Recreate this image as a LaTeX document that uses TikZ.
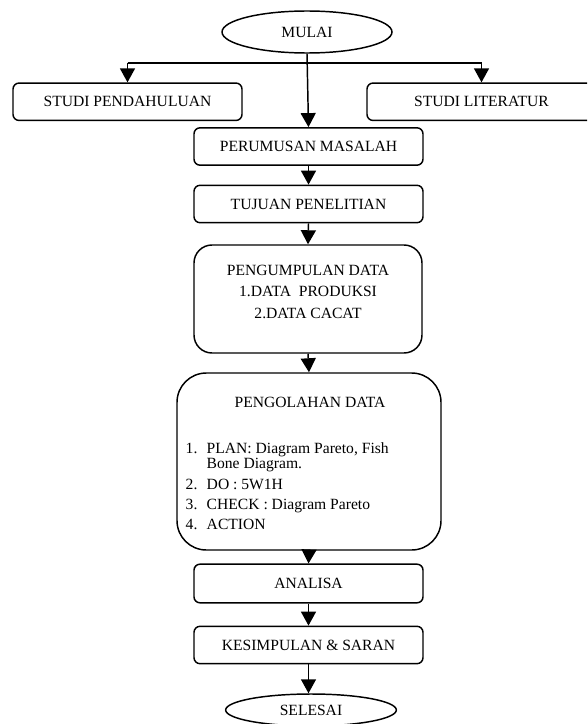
\documentclass[tikz,border=0pt]{standalone}
\usepackage{fontspec}
\setmainfont{Liberation Serif}
\usetikzlibrary{arrows.meta,shapes.geometric}
\begin{document}
\begin{tikzpicture}[x=0.75pt,y=-0.75pt,
  line width=1.1pt,
  txtfont/.style={font=\fontsize{11.7}{16.1}\selectfont},
  box/.style={draw, rounded corners=4.5pt, line width=1.1pt, minimum width=171.75pt, minimum height=28pt, inner sep=0pt, txtfont},
  bigbox/.style={draw, line width=1.1pt, inner sep=0pt},
  term/.style={draw, ellipse, line width=1.1pt, inner sep=0pt, txtfont},
  arr/.style={-{Triangle[width=11.25pt,length=10.5pt]}, line width=1.1pt},
  txt/.style={inner sep=0pt, txtfont},
]
\useasboundingbox (0,0) rectangle (587,724);
\clip (0,0) rectangle (587,724);

% terminals
\node[term, minimum width=127.5pt, minimum height=31.5pt] (mulai) at (307,32) {MULAI};
\node[term, minimum width=128pt, minimum height=24pt] (selesai) at (311,710) {SELESAI};

% top branch boxes
\node[box] (sp) at (127.5,101.75) {STUDI PENDAHULUAN};
\node[box] (sl) at (481.5,101.75) {STUDI LITERATUR};

% main column
\node[box] (pm) at (308.5,146.5) {PERUMUSAN MASALAH};
\node[box] (tp) at (308.5,204) {TUJUAN PENELITIAN};

\node[bigbox, rounded corners=13.5pt, minimum width=171pt, minimum height=81pt] (pd) at (308,299) {};
\node[txt, align=center] (pdt) at (308,291.5) {PENGUMPULAN DATA\\1.DATA\ \ PRODUKSI\\2.DATA CACAT};

\node[bigbox, rounded corners=22pt, minimum width=198pt, minimum height=132.75pt] (ol) at (309,461.5) {};
\node[txt] (olt) at (310,402) {PENGOLAHAN DATA};
\node[txt, anchor=base west] (n1) at (185,453) {1.};
\node[txt, anchor=base west] (l1) at (206,453) {PLAN: Diagram Pareto, Fish};
\node[txt, anchor=base west] (l1b) at (206,468) {Bone Diagram.};
\node[txt, anchor=base west] (n2) at (185,489) {2.};
\node[txt, anchor=base west] (l2) at (206,489) {DO : 5W1H};
\node[txt, anchor=base west] (n3) at (185,509) {3.};
\node[txt, anchor=base west] (l3) at (206,509) {CHECK : Diagram Pareto};
\node[txt, anchor=base west] (n4) at (185,529) {4.};
\node[txt, anchor=base west] (l4) at (206,529) {ACTION};

\node[box, minimum height=29pt] (an) at (308.5,583.5) {ANALISA};
\node[box] (ks) at (308.5,645) {KESIMPULAN \& SARAN};

% connectors
\coordinate (jl) at (127.5,63);
\coordinate (jr) at (481.5,63);
\draw (jl) -- (jr);
\draw[arr] (jl) -- (sp.north);
\draw[arr] (jr) -- (sl.north);
\draw[arr] (mulai.south) -- (pm.north);
\draw[arr] (pm.south) -- (tp.north);
\draw[arr] (tp.south) -- (pd.north);
\draw[arr] (pd.south) -- (ol.north);
\draw[arr] (ol.south) -- (an.north);
\draw[arr] (an.south) -- (ks.north);
\draw[arr] (ks.south) -- (ks.south |- selesai.north);
\end{tikzpicture}
\end{document}
